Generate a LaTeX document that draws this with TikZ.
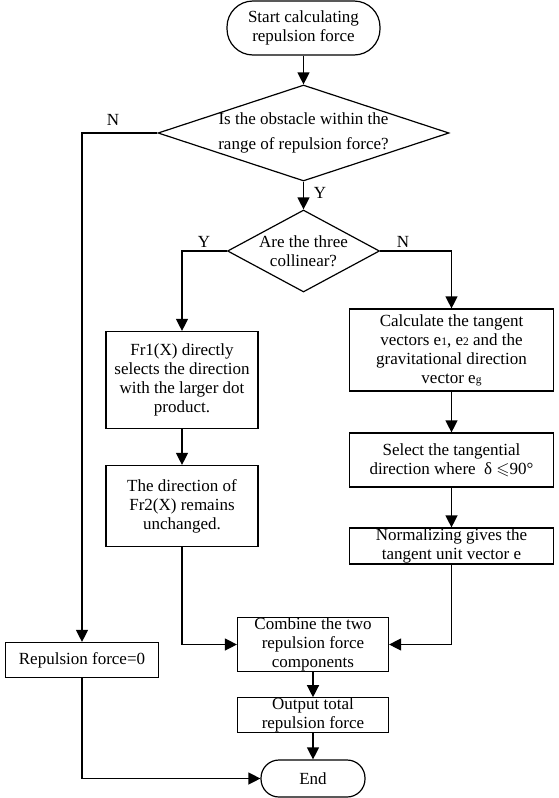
\documentclass[tikz,border=0pt]{standalone}
\usepackage{fontspec}
\usepackage{amssymb}
\setmainfont{Liberation Serif}
\usetikzlibrary{shapes.geometric, arrows.meta}
\newcommand{\idx}[1]{{\fontsize{11.5}{11.5}\selectfont #1}}

\begin{document}
\begin{tikzpicture}[x=1pt, y=-1pt, font=\fontsize{17}{19}\selectfont]
    \tikzstyle{box_style} = [draw, line width=1.2pt, rectangle, align=center, inner sep=0pt]
    \tikzstyle{cond_style} = [draw, line width=1.2pt, diamond, align=center, inner sep=-12pt, shape aspect=3]
    \tikzstyle{arrow_style} = [-{Triangle[length=12pt, width=12pt]}, line width=1.3pt]

    \useasboundingbox (0,0) rectangle (559,798);

    \node[box_style, rounded corners=26pt, minimum width=153, minimum height=54] (start) at (303.5,28) {Start calculating\\repulsion force};
    \node[cond_style, minimum width=291, minimum height=96, font=\fontsize{17}{25}\selectfont] (q1) at (303.5,133) {Is the obstacle within the\\range of repulsion force?};
    \node[cond_style, minimum width=152, minimum height=82] (q2) at (303.5,251) {Are the three\\collinear?};

    \node[box_style, minimum width=152, minimum height=97] (fr1) at (182,380) {Fr1(X) directly\\selects the direction\\with the larger dot\\product.};
    \node[box_style, minimum width=152, minimum height=81] (fr2) at (182,506) {The direction of\\Fr2(X) remains\\unchanged.};

    \node[box_style, minimum width=204, minimum height=82] (calc) at (451.5,350) {Calculate the tangent\\vectors e\idx{1}, e\idx{2} and the\\gravitational direction\\vector e\idx{g}};
    \node[box_style, minimum width=204, minimum height=54] (sel) at (451.5,460) {Select the tangential\\direction where~~δ $\leqslant$90°};
    \node[box_style, minimum width=204, minimum height=36] (norm) at (451.5,546) {Normalizing gives the\\tangent unit vector e};

    \node[box_style, minimum width=153, minimum height=35] (zero) at (82,660) {Repulsion force=0};
    \node[box_style, minimum width=151, minimum height=53] (comb) at (313,644.5) {Combine the two\\repulsion force\\components};
    \node[box_style, minimum width=151, minimum height=34] (total) at (313,715) {Output total\\repulsion force};
    \node[box_style, rounded corners=18pt, minimum width=104, minimum height=37] (stop) at (313,778.5) {End};

    \node (n1) at (113,120) {N};
    \node (y1) at (320,193) {Y};
    \node (y2) at (204,242) {Y};
    \node (n2) at (403,242) {N};

    \draw[arrow_style] (start) -- (q1);
    \draw[arrow_style] (q1.west) -| (zero.north);
    \draw[arrow_style] (q1) -- (q2);
    \draw[arrow_style] (q2.west) -| (fr1.north);
    \draw[arrow_style] (q2.east) -| (calc.north);
    \draw[arrow_style] (fr1) -- (fr2);
    \draw[arrow_style] (calc) -- (sel);
    \draw[arrow_style] (sel) -- (norm);
    \draw[arrow_style] (fr2.south) |- (comb.west);
    \draw[arrow_style] (norm.south) |- (comb.east);
    \draw[arrow_style] (comb) -- (total);
    \draw[arrow_style] (total) -- (stop);
    \draw[arrow_style] (zero.south) |- (stop.west);
\end{tikzpicture}
\end{document}
